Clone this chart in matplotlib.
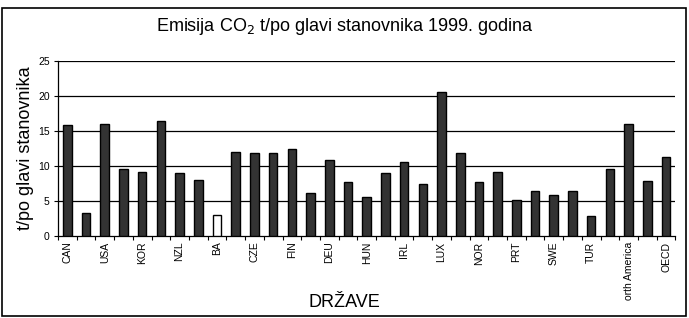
import numpy as np
import matplotlib.pyplot as plt
from matplotlib.patches import Rectangle

plt.rcParams['font.family'] = ['Liberation Sans', 'DejaVu Sans']

countries = ["CAN", "MEX", "USA", "JPN", "KOR", "AUS", "NZL", "AUT", "BA",
             "BEL", "CZE", "DNK", "FIN", "FRA", "DEU", "GRC", "HUN", "ISL",
             "IRL", "ITA", "LUX", "NLD", "NOR", "POL", "PRT", "ESP", "SWE",
             "CHE", "TUR", "GBR", "orth America", "OECD Europe", "OECD"]
emissions = [15.8, 3.3, 16.0, 9.5, 9.2, 16.5, 9.0, 8.0, 3.0,
             12.0, 11.8, 11.8, 12.5, 6.1, 10.8, 7.7, 5.6, 9.0,
             10.5, 7.4, 20.6, 11.8, 7.7, 9.2, 5.1, 6.4, 5.9,
             6.4, 2.8, 9.5, 16.0, 7.9, 11.3]
highlight = "BA"

fig = plt.figure(figsize=(6.89, 3.18), dpi=100)
fig.patches.append(Rectangle((0.003, 0.006), 0.993, 0.969, transform=fig.transFigure,
                             fill=False, edgecolor="black", linewidth=1.2))

ax = fig.add_axes([0.0842, 0.258, 0.896, 0.55])
x = np.arange(len(countries))
colors = ["white" if c == highlight else "#333333" for c in countries]
ax.bar(x, emissions, width=0.46, color=colors, edgecolor="black", linewidth=1.0, zorder=3)

ax.set_xlim(-0.5, len(countries) - 0.5)
ax.set_ylim(0, 25)
ax.set_yticks(np.arange(0, 26, 5))
for y in range(5, 26, 5):
    ax.axhline(y, color="black", linewidth=0.9, zorder=1)

# ticks at the category boundaries, labels on every other category
ax.set_xticks(np.arange(-0.5, len(countries), 1.0))
ax.set_xticklabels([])
ax.set_xticks(x[::2], minor=True)
ax.set_xticklabels(countries[::2], minor=True, rotation=90, fontsize=7.5)
ax.tick_params(axis="x", which="major", length=3, direction="out", width=0.8)
ax.tick_params(axis="x", which="minor", length=0, pad=4)
ax.tick_params(axis="y", length=3, width=0.8, labelsize=7.5, pad=3)

for side in ["top", "right"]:
    ax.spines[side].set_visible(False)
ax.spines["left"].set_linewidth(0.9)
ax.spines["bottom"].set_linewidth(0.9)

ax.set_ylabel("t/po glavi stanovnika", fontsize=13, labelpad=3)
fig.text(0.5, 0.022, "DRŽAVE", ha="center", va="bottom", fontsize=13)
fig.text(0.5, 0.918, "Emisija CO$_2$ t/po glavi stanovnika 1999. godina",
         ha="center", va="center", fontsize=13)

fig.savefig("out.png", dpi=100)
